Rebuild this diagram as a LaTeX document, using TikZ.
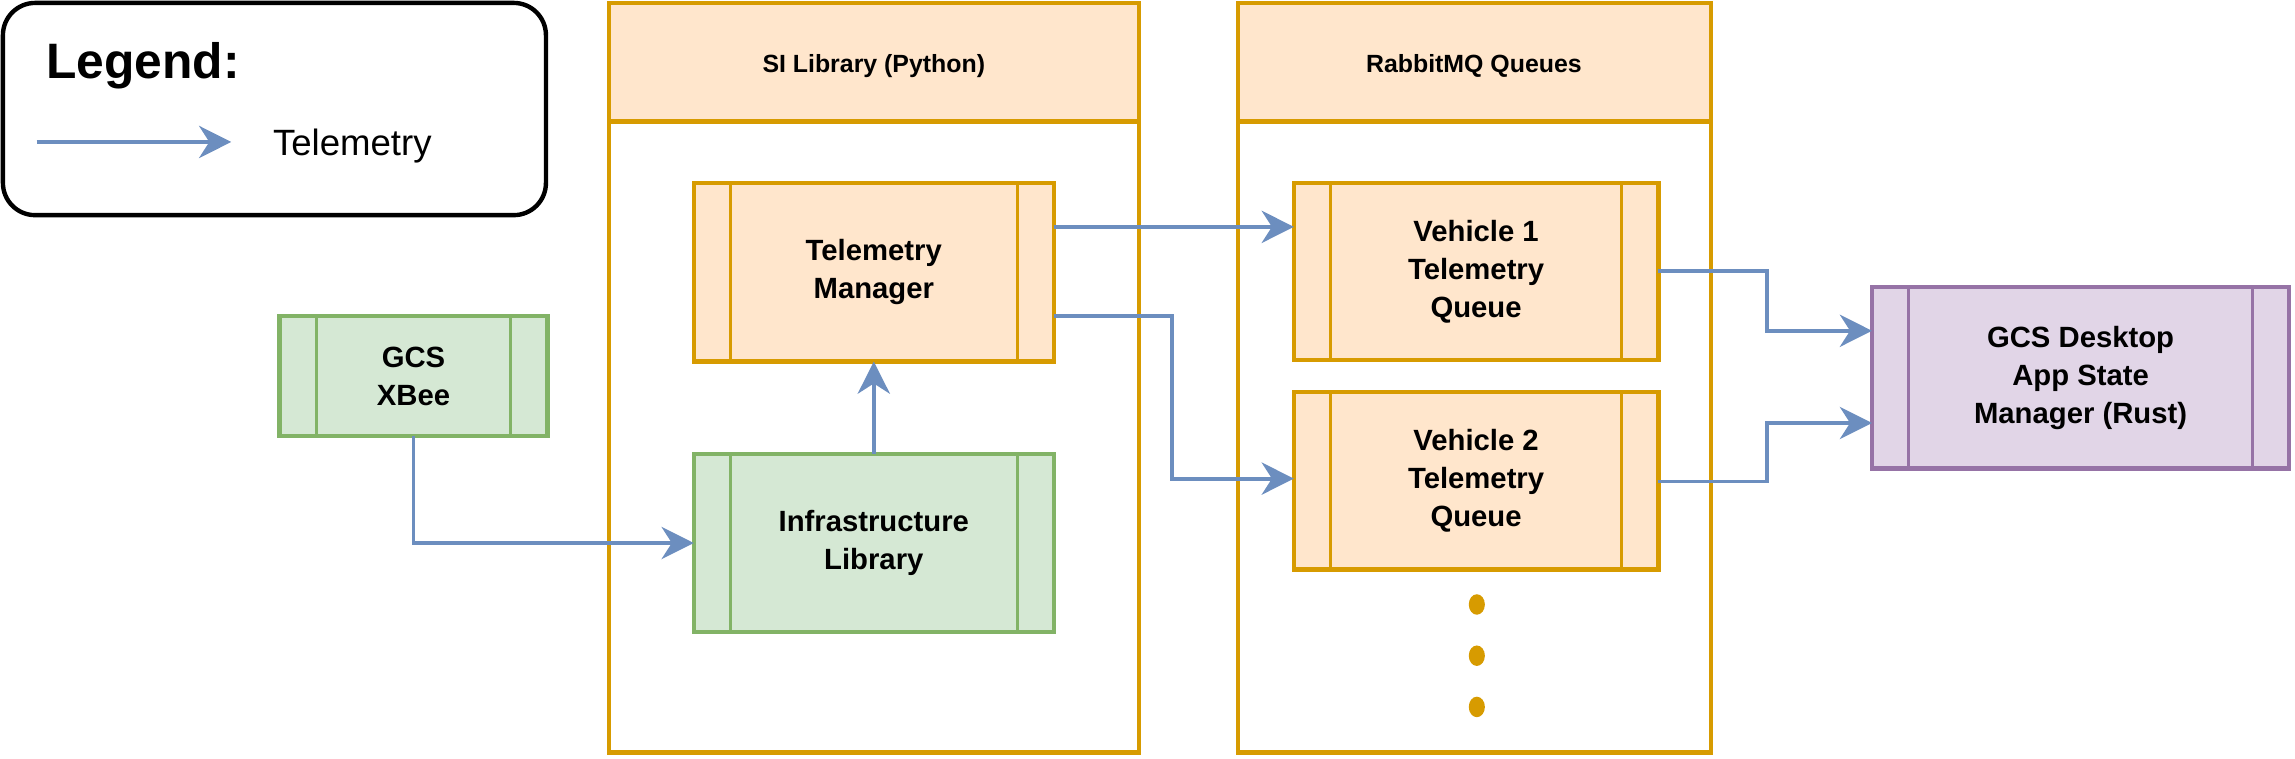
\documentclass[tikz,border=0pt]{standalone}
\usepackage{fontspec}
\setmainfont{Liberation Sans}
\usetikzlibrary{arrows.meta}
\definecolor{orf}{HTML}{FFE6CC}\definecolor{ors}{HTML}{D79B00}
\definecolor{grf}{HTML}{D5E8D4}\definecolor{grs}{HTML}{82B366}
\definecolor{puf}{HTML}{E1D5E7}\definecolor{pus}{HTML}{9673A6}
\definecolor{blu}{HTML}{6C8EBF}
\tikzset{
 proc/.style={line width=3pt,font=\fontsize{20}{26}\selectfont\bfseries,align=center},
 tel/.style={draw=blu,line width=2.6pt,-{Triangle[open,length=0pt]}},
 arr/.style={draw=blu,line width=2.6pt,-{Stealth[length=22pt,width=22pt,inset=7pt]}},
}
\newcommand{\procbox}[8]{% name,x1,y1,x2,y2,fill,stroke,text
 \fill[#6] (#2,#3) rectangle (#4,#5);
 \draw[#7,line width=3pt] (#2,#3) rectangle (#4,#5);
 \draw[#7,line width=2.2pt] ($(#2,#3)+(25,0)$) -- ($(#2,#5)+(25,0)$) ($(#4,#3)+(-25,0)$) -- ($(#4,#5)+(-25,0)$);
 \node[proc] (#1) at ($(#2,#3)!0.5!(#4,#5)$) {#8};
 \coordinate (#1-nw) at (#2,#3); \coordinate (#1-se) at (#4,#5);
}
\usetikzlibrary{calc}
\begin{document}
\begin{tikzpicture}[x=1pt,y=-1pt]
\useasboundingbox (0,0) rectangle (1568,518);
% legend
\draw[line width=3pt,rounded corners=22pt] (2,2) rectangle (373,147);
\node[anchor=west,font=\fontsize{34}{40}\selectfont\bfseries] (lg) at (28,45) {Legend:};
\coordinate (la) at (25,97); \coordinate (lb) at (158,97);
\draw[arr] (la) -- (lb);
\node[anchor=west,font=\fontsize{25}{30}\selectfont] (lt) at (183,100) {Telemetry};
% containers
\fill[orf] (416,2) rectangle (778,83);
\draw[ors,line width=3pt] (416,2) rectangle (778,514) (416,83) -- (778,83);
\node[font=\fontsize{17}{20}\selectfont\bfseries] (si) at (597,45) {SI Library (Python)};
\fill[orf] (846,2) rectangle (1169,83);
\draw[ors,line width=3pt] (846,2) rectangle (1169,514) (846,83) -- (1169,83);
\node[font=\fontsize{17}{20}\selectfont\bfseries] (rq) at (1007,45) {RabbitMQ Queues};
% boxes
\procbox{tm}{474}{125}{720}{247}{orf}{ors}{Telemetry\\Manager}
\procbox{il}{474}{310}{720}{432}{grf}{grs}{Infrastructure\\Library}
\procbox{xb}{191}{216}{374}{298}{grf}{grs}{GCS\\XBee}
\procbox{v1}{884}{125}{1133}{246}{orf}{ors}{Vehicle 1\\Telemetry\\Queue}
\procbox{v2}{884}{268}{1133}{389}{orf}{ors}{Vehicle 2\\Telemetry\\Queue}
\procbox{gd}{1279}{196}{1564}{320}{puf}{pus}{GCS Desktop\\App State\\Manager (Rust)}
\foreach \yy [count=\i] in {413,448,483} \fill[ors] (1009,\yy) ellipse (5.5 and 7);
% connectors
\draw[arr] (tm.center |- 0,155) ++(123,0) -- (v1-nw |- 0,155);
\draw[arr] ($(tm.center |- 0,216)+(123,0)$) -| (801,327) -- (v2-nw |- 0,327);
\draw[arr] (il.center |- il-nw) -- (tm.center |- tm-se);
\draw[arr] (xb.center |- xb-se) |- (il-nw |- 0,371);
\draw[arr] ($(v1.center |- 0,185)+(124.5,0)$) -| (1207,226) -- (gd-nw |- 0,226);
\draw[arr] ($(v2.center |- 0,329)+(124.5,0)$) -| (1207,289) -- (gd-nw |- 0,289);
\end{tikzpicture}
\end{document}
